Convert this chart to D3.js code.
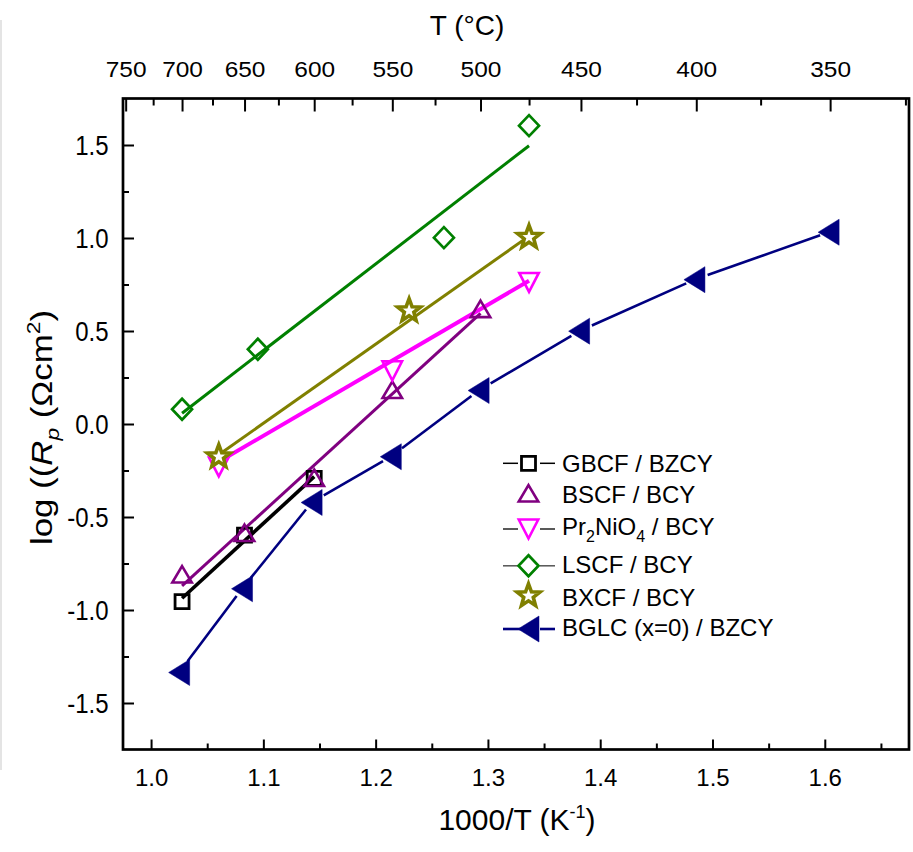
<!DOCTYPE html>
<html><head><meta charset="utf-8">
<script src="https://cdn.jsdelivr.net/npm/d3@7"></script>
<style>
body{margin:0;background:#fff}
svg{display:block}
text{font-family:"Liberation Sans",Arial,Helvetica,sans-serif;fill:#000}
</style>
</head><body>
<svg id="chart" width="913" height="852"></svg>
<script>
// ---------------- data ----------------
const gbcfX = [1.0276, 1.0832, 1.1453];
const gbcfY = [-0.955, -0.597, -0.292];
const gbcfFitX = [1.0276, 1.1453];
const gbcfFitY = [-0.937, -0.283];

const bscfX = [1.0276, 1.0832, 1.1453, 1.2148, 1.2934];
const bscfY = [-0.808, -0.585, -0.289, 0.184, 0.619];
const bscfFitX = [1.0276, 1.2934];
const bscfFitY = [-0.870, 0.595];

const pnoX = [1.0603, 1.2148, 1.3366];
const pnoY = [-0.231, 0.286, 0.761];
const pnoFitX = [1.0603, 1.3366];
const pnoFitY = [-0.203, 0.770];

const lscfX = [1.0276, 1.0951, 1.2608, 1.3366];
const lscfY = [0.079, 0.402, 1.002, 1.604];
const lscfFitX = [1.0276, 1.3366];
const lscfFitY = [0.058, 1.496];

const bxcfX = [1.0603, 1.2298, 1.3366];
const bxcfY = [-0.176, 0.609, 1.004];
const bxcfFitX = [1.0603, 1.3366];
const bxcfFitY = [-0.165, 1.010];

const bglcX = [1.0250, 1.0810, 1.1430, 1.2135, 1.2917, 1.3812, 1.4839, 1.6034];
const bglcY = [-1.336, -0.886, -0.422, -0.176, 0.180, 0.499, 0.776, 1.031];

const xTickValues = [1.0, 1.1, 1.2, 1.3, 1.4, 1.5, 1.6];
const xMinorValues = [1.05, 1.15, 1.25, 1.35, 1.45, 1.55, 1.65];
const yTickValues = [-1.5, -1.0, -0.5, 0.0, 0.5, 1.0, 1.5];
const yMinorValues = [-1.25, -0.75, -0.25, 0.25, 0.75, 1.25];
const topTickC = [750, 700, 650, 600, 550, 500, 450, 400, 350];
const topMinorC = [725, 675, 625, 575, 525, 475, 425, 375, 325];

const seriesNames = ["GBCF / BZCY", "BSCF / BCY", "Pr2NiO4 / BCY", "LSCF / BCY", "BXCF / BCY", "BGLC (x=0) / BZCY"];

// ---------------- layout ----------------
const L = 123, R = 909, T = 98.5, B = 749.5;
const svg = d3.select("#chart");
const x = d3.scaleLinear().domain([0.975, 1.675]).range([L, R]);
const y = d3.scaleLinear().domain([-1.75, 1.75]).range([B, T]);
const toInvT = c => 1000 / (c + 273.15);

svg.append("rect").attr("x", 0).attr("y", 20).attr("width", 2).attr("height", 750).attr("fill", "#e4e4e4");

// ---------------- axes ----------------
function styleAxis(g, fs) {
  g.select(".domain").remove();
  g.selectAll(".tick line").attr("stroke", "#000").attr("stroke-width", 2);
  g.selectAll("text").style("font-size", fs + "px").attr("fill", "#000");
}

const gb = svg.append("g").attr("transform", `translate(0,${B})`)
  .call(d3.axisBottom(x).tickValues(xTickValues).tickSize(-10).tickFormat(d3.format(".1f")));
styleAxis(gb, 24);
gb.selectAll("text").attr("y", 36).attr("dy", 0);
const gbm = svg.append("g").attr("transform", `translate(0,${B})`)
  .call(d3.axisBottom(x).tickValues(xMinorValues).tickSize(-6).tickFormat(""));
styleAxis(gbm, 24);

const gl = svg.append("g").attr("transform", `translate(${L},0)`)
  .call(d3.axisLeft(y).tickValues(yTickValues).tickSize(-11).tickFormat(d3.format(".1f")));
styleAxis(gl, 24);
gl.selectAll("text").attr("x", -14.5).attr("dy", "0.36em").attr("transform", "scale(1,1.12)")
  .text(d => d3.format(".1f")(d).replace("−", "-"));
const glm = svg.append("g").attr("transform", `translate(${L},0)`)
  .call(d3.axisLeft(y).tickValues(yMinorValues).tickSize(-6).tickFormat(""));
styleAxis(glm, 24);

const gt = svg.append("g").attr("transform", `translate(0,${T})`)
  .call(d3.axisTop(x).tickValues(topTickC.map(toInvT)).tickSize(-13)
    .tickFormat(d => String(Math.round(1000 / d - 273.15))));
styleAxis(gt, 24.5);
gt.selectAll("text").attr("y", -21.8 / 0.88).attr("dy", 0).attr("transform", "scale(1,0.88)");
const gtm = svg.append("g").attr("transform", `translate(0,${T})`)
  .call(d3.axisTop(x).tickValues(topMinorC.map(toInvT)).tickSize(-7).tickFormat(""));
styleAxis(gtm, 24);

svg.append("rect").attr("x", L).attr("y", T).attr("width", R - L).attr("height", B - T)
  .attr("fill", "none").attr("stroke", "#000").attr("stroke-width", 2.7);

// axis titles
const xt = svg.append("text").attr("x", 517).attr("y", 830).attr("text-anchor", "middle").style("font-size", "30px");
xt.append("tspan").text("1000/T (K");
xt.append("tspan").attr("dy", -12).style("font-size", "18px").text("-1");
xt.append("tspan").attr("dy", 12).text(")");

const tt = svg.append("text").attr("x", 467).attr("y", 35).attr("text-anchor", "middle").style("font-size", "28px");
tt.text("T (°C)");

const yt = svg.append("text").attr("transform", "translate(51.5,310) rotate(-90) scale(1.2,1)")
  .attr("text-anchor", "end").style("font-size", "29px");
yt.append("tspan").text("log ((");
yt.append("tspan").style("font-style", "italic").text("R");
yt.append("tspan").style("font-style", "italic").style("font-size", "19px").attr("dy", 7).text("p");
yt.append("tspan").attr("dy", -7).text(" (Ωcm");
yt.append("tspan").style("font-size", "19px").attr("dy", -12).text("2");
yt.append("tspan").attr("dy", 12).text(")");

// ---------------- marker shapes ----------------
const shapes = {
  square: s => `M${-s},${-s}H${s}V${s}H${-s}Z`,
  up: (w, h) => `M0,${-h / 2}L${w / 2},${h / 2}L${-w / 2},${h / 2}Z`,
  down: (w, h) => `M0,${h / 2}L${w / 2},${-h / 2}L${-w / 2},${-h / 2}Z`,
  diamond: (w, h) => `M0,${-h / 2}L${w / 2},0L0,${h / 2}L${-w / 2},0Z`,
  left: (w, h) => `M${-w / 2},0L${w / 2},${-h / 2}L${w / 2},${h / 2}Z`,
  star: (ro, ri) => {
    let p = [];
    for (let i = 0; i < 10; i++) {
      const a = -Math.PI / 2 + i * Math.PI / 5, r = i % 2 ? ri : ro;
      p.push([r * Math.cos(a), r * Math.sin(a)]);
    }
    return "M" + p.map(q => q[0].toFixed(2) + "," + q[1].toFixed(2)).join("L") + "Z";
  }
};

const series = [
  {xs: gbcfX, ys: gbcfY, fx: gbcfFitX, fy: gbcfFitY, color: "#000000", lw: 3.6, path: shapes.square(7), fill: "none", sw: 2.8},
  {xs: bscfX, ys: bscfY, fx: bscfFitX, fy: bscfFitY, color: "#800080", lw: 3, path: shapes.up(19.5, 16.5), fill: "none", sw: 2.6},
  {xs: pnoX, ys: pnoY, fx: pnoFitX, fy: pnoFitY, color: "#ff00ff", lw: 4, path: shapes.down(19.5, 19), fill: "none", sw: 2.6},
  {xs: lscfX, ys: lscfY, fx: lscfFitX, fy: lscfFitY, color: "#008000", lw: 3, path: shapes.diamond(20, 21), fill: "none", sw: 2.7},
  {xs: bxcfX, ys: bxcfY, fx: bxcfFitX, fy: bxcfFitY, color: "#808000", lw: 3, path: shapes.star(12, 5), fill: "#ffffff", sw: 3.6}
];

const line = d3.line().x(d => x(d[0])).y(d => y(d[1]));
const plot = svg.append("g");

series.forEach(s => {
  plot.append("path").datum(d3.zip(s.fx, s.fy)).attr("d", line)
    .attr("fill", "none").attr("stroke", s.color).attr("stroke-width", s.lw);
});

const bglcPts = d3.zip(bglcX, bglcY);
const segs = d3.pairs(bglcPts).map(([a, b]) => {
  const x0 = x(a[0]), y0 = y(a[1]), x1 = x(b[0]), y1 = y(b[1]);
  const len = Math.hypot(x1 - x0, y1 - y0), ux = (x1 - x0) / len, uy = (y1 - y0) / len;
  return [[x0 + ux * 14, y0 + uy * 14], [x1 - ux * 9, y1 - uy * 9]];
});
plot.selectAll(".bseg").data(segs).join("line").attr("class", "bseg")
  .attr("x1", d => d[0][0]).attr("y1", d => d[0][1]).attr("x2", d => d[1][0]).attr("y2", d => d[1][1])
  .attr("stroke", "#000080").attr("stroke-width", 2.6);

series.forEach(s => {
  plot.append("g").selectAll("path").data(d3.zip(s.xs, s.ys)).join("path")
    .attr("transform", d => `translate(${x(d[0])},${y(d[1])})`)
    .attr("d", s.path).attr("fill", s.fill).attr("stroke", s.color).attr("stroke-width", s.sw)
    .attr("stroke-linejoin", "miter");
});
plot.append("g").selectAll("path").data(bglcPts).join("path")
  .attr("transform", d => `translate(${x(d[0])},${y(d[1])})`)
  .attr("d", shapes.left(21, 26)).attr("fill", "#000080").attr("stroke", "#000080").attr("stroke-width", 0.5);

// ---------------- legend ----------------
const legMarkerY = [463.3, 493.3, 529, 565.8, 595.8, 629];
const legTextY = [472.3, 503.3, 535, 572.7, 605.7, 635.5];
const legend = svg.append("g");
const legLines = [
  {c: "#000", w: 1.5}, null, {c: "#222", w: 1.5}, {c: "#555", w: 1.5}, null, {c: "#000080", w: 2.6}
];
legLines.forEach((ll, i) => {
  if (!ll) return;
  legend.append("line").attr("x1", 503).attr("x2", i === 5 ? 521 : 518).attr("y1", legMarkerY[i]).attr("y2", legMarkerY[i])
    .attr("stroke", ll.c).attr("stroke-width", ll.w);
  legend.append("line").attr("x1", 540).attr("x2", 555).attr("y1", legMarkerY[i]).attr("y2", legMarkerY[i])
    .attr("stroke", ll.c).attr("stroke-width", ll.w);
});
series.forEach((s, i) => {
  legend.append("path").attr("transform", `translate(528.5,${legMarkerY[i]})`).attr("d", s.path)
    .attr("fill", s.fill).attr("stroke", s.color).attr("stroke-width", s.sw);
});
legend.append("path").attr("transform", `translate(528.5,${legMarkerY[5]})`).attr("d", shapes.left(21, 26))
  .attr("fill", "#000080").attr("stroke", "#000080").attr("stroke-width", 0.5);

seriesNames.forEach((n, i) => {
  const t = legend.append("text").attr("x", 562).attr("y", legTextY[i]).style("font-size", "24px");
  if (n.startsWith("Pr2NiO4")) {
    t.append("tspan").text("Pr");
    t.append("tspan").style("font-size", "16px").attr("dy", 7).text("2");
    t.append("tspan").attr("dy", -7).text("NiO");
    t.append("tspan").style("font-size", "16px").attr("dy", 7).text("4");
    t.append("tspan").attr("dy", -7).text(" / BCY");
  } else {
    t.text(n);
  }
});
</script>
</body></html>
